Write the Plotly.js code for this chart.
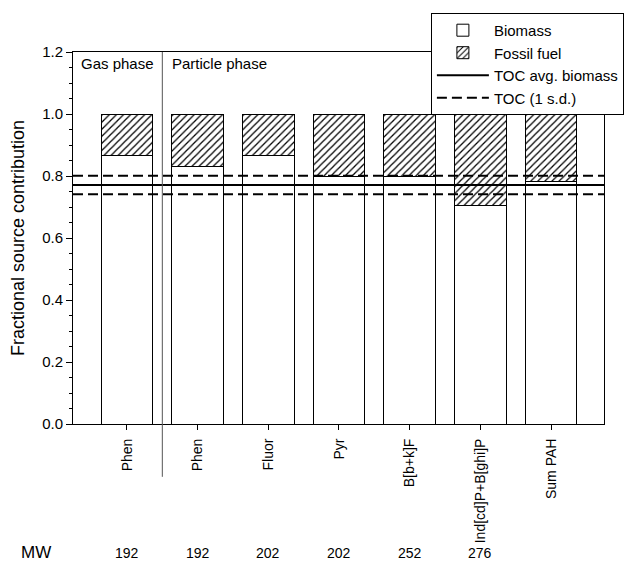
<!DOCTYPE html>
<html>
<head>
<meta charset="utf-8">
<script src="https://cdn.plot.ly/plotly-3.0.1.min.js"></script>
<style>html,body{margin:0;padding:0;background:#fff;}#chart{width:630px;height:564px;}</style>
</head>
<body>
<div id="chart"></div>
<script>
// ---- data ----
const categories = ["Phen", "Phen", "Fluor", "Pyr", "B[b+k]F", "Ind[cd]P+B[ghi]P", "Sum PAH"];
const biomass    = [0.865, 0.832, 0.867, 0.800, 0.797, 0.705, 0.782];
const fossil     = [0.135, 0.168, 0.133, 0.200, 0.203, 0.295, 0.218];
const mwLabels   = ["192", "192", "202", "202", "252", "276"];
const tocAvg     = 0.771;
const tocSd      = 0.030;
const yTicks     = [0, 0.2, 0.4, 0.6, 0.8, 1.0, 1.2];

const xPos = categories.map((c, i) => i);
const FONT = "Liberation Sans, Arial, sans-serif";

const traces = [
  {
    type: "bar", name: "Biomass", x: xPos, y: biomass, width: 0.727,
    marker: {color: "white", line: {color: "black", width: 1}},
    hoverinfo: "skip"
  },
  {
    type: "bar", name: "Fossil fuel", x: xPos, y: fossil, width: 0.727,
    marker: {color: "white", line: {color: "black", width: 1},
             pattern: {shape: "/", fgcolor: "black", bgcolor: "white", size: 5, solidity: 0.25}},
    hoverinfo: "skip"
  },
  {
    type: "scatter", mode: "lines", name: "TOC avg. biomass", xaxis: "x2",
    x: [0, 1], y: [tocAvg, tocAvg],
    line: {color: "black", width: 2}, hoverinfo: "skip"
  },
  {
    type: "scatter", mode: "lines", name: "TOC (1 s.d.)", xaxis: "x2",
    x: [0, 1, null, 0, 1],
    y: [tocAvg + tocSd, tocAvg + tocSd, null, tocAvg - tocSd, tocAvg - tocSd],
    line: {color: "black", width: 2, dash: "10px,5px"}, hoverinfo: "skip"
  }
];

const annotations = [
  {text: "Gas phase", xref: "paper", yref: "paper", x: 0.011, y: 0.97, xanchor: "left", yanchor: "middle",
   showarrow: false, font: {family: FONT, size: 15, color: "black"}},
  {text: "Particle phase", xref: "paper", yref: "paper", x: 0.183, y: 0.97, xanchor: "left", yanchor: "middle",
   showarrow: false, font: {family: FONT, size: 15, color: "black"}},
  {text: "MW", xref: "paper", yref: "paper", x: -0.07, y: -0.346, xanchor: "center", yanchor: "middle",
   showarrow: false, font: {family: FONT, size: 17, color: "black"}}
];
mwLabels.forEach((m, i) => {
  annotations.push({text: m, xref: "x", yref: "paper", x: xPos[i], y: -0.346, xanchor: "center", yanchor: "middle",
    showarrow: false, font: {family: FONT, size: 14, color: "black"}});
});

const layout = {
  width: 630, height: 564,
  margin: {l: 73, r: 26, t: 52, b: 140, autoexpand: false},
  paper_bgcolor: "white", plot_bgcolor: "white",
  font: {family: FONT, size: 15, color: "black"},
  barmode: "stack",
  showlegend: true,
  legend: {
    x: 0.674, y: 1.105, xanchor: "left", yanchor: "top",
    bgcolor: "white", bordercolor: "black", borderwidth: 1,
    font: {family: FONT, size: 15, color: "black"},
    tracegroupgap: 0, itemwidth: 52, traceorder: "normal"
  },
  xaxis: {
    range: [-0.764, 6.75], tickvals: xPos, ticktext: categories, tickangle: -90,
    ticks: "outside", ticklen: 5, tickcolor: "black", ticklabelstandoff: 3,
    showline: true, linecolor: "black", linewidth: 1, mirror: true,
    showgrid: false, zeroline: false,
    tickfont: {family: FONT, size: 14, color: "black"}
  },
  xaxis2: {range: [0, 1], overlaying: "x", visible: false, showgrid: false, zeroline: false},
  yaxis: {
    range: [0, 1.2], tickvals: yTicks, tickformat: ".1f",
    ticks: "outside", ticklen: 6, tickcolor: "black",
    minor: {dtick: 0.05, ticks: "outside", ticklen: 3, tickcolor: "black", showgrid: false},
    showline: true, linecolor: "black", linewidth: 1, mirror: true,
    showgrid: false, zeroline: false,
    tickfont: {family: FONT, size: 15, color: "black"},
    title: {text: "Fractional source contribution", font: {family: FONT, size: 18, color: "black"}, standoff: 12}
  },
  shapes: [
    {type: "line", xref: "x", yref: "paper", x0: 0.5, x1: 0.5, y0: -0.142, y1: 1,
     line: {color: "#555", width: 1}, layer: "above"}
  ],
  annotations: annotations
};

Plotly.newPlot("chart", traces, layout, {displayModeBar: false, staticPlot: true});
</script>
</body>
</html>
